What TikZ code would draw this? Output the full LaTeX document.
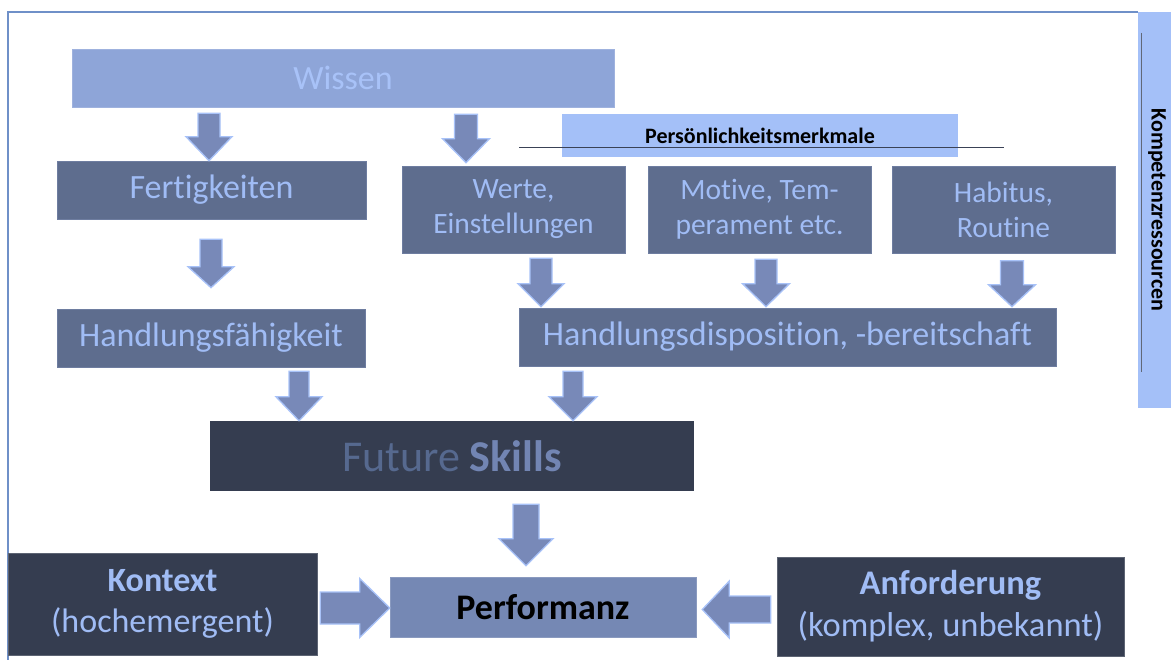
\documentclass[tikz,border=0pt]{standalone}
\usepackage{fontspec}
\setmainfont{Carlito}[Ligatures={NoCommon}]
\usetikzlibrary{calc}

\definecolor{wissenfill}{HTML}{8EA5D8}
\definecolor{wissentext}{HTML}{A8C2F8}
\definecolor{midfill}{HTML}{5E6D8E}
\definecolor{midedge}{HTML}{6E7DA0}
\definecolor{midtext}{HTML}{A0BCF5}
\definecolor{darkfill}{HTML}{353D50}
\definecolor{futuretext}{HTML}{56698F}
\definecolor{skillstext}{HTML}{7285B3}
\definecolor{perffill}{HTML}{7588B4}
\definecolor{barfill}{HTML}{A4C0F8}
\definecolor{arrowfill}{HTML}{7889B8}
\definecolor{arrowedge}{HTML}{A8C2F8}
\definecolor{framecol}{HTML}{6F90C8}
\definecolor{rulecol}{HTML}{3A4256}

\tikzset{
  box/.style={rectangle, inner sep=0pt, align=center,
    font=\fontsize{34}{41}\selectfont},
  wissenbox/.style={box, fill=wissenfill, draw=wissenfill!85!white, line width=0.6pt, text=wissentext},
  midbox/.style={box, fill=midfill, draw=midedge, line width=0.6pt, text=midtext},
  smallmid/.style={midbox, font=\fontsize{29.5}{35}\selectfont},
  darkbox/.style={box, fill=darkfill, draw=darkfill!80!white, line width=0.6pt, text=midtext},
  perfbox/.style={box, fill=perffill, draw=perffill!85!white, line width=0.6pt, text=black,
    font=\fontsize{36}{42}\selectfont\bfseries},
  barbox/.style={rectangle, inner sep=0pt, fill=barfill, text=black,
    font=\fontsize{22}{26}\selectfont\bfseries},
  blockarrow/.style={fill=arrowfill, draw=arrowedge, line width=1.3pt, line join=miter},
}

% vertical block arrow: from, to, x, top gap, tip gap, shaft half width, head half width, head length
\newcommand\vblock[8]{%
  \path[blockarrow] let \p1=(#1.south), \p2=(#2.north) in
    (#3pt-#6pt,\y1-#4pt) -- (#3pt+#6pt,\y1-#4pt) -- (#3pt+#6pt,\y2+#5pt+#8pt)
    -- (#3pt+#7pt,\y2+#5pt+#8pt) -- (#3pt,\y2+#5pt) -- (#3pt-#7pt,\y2+#5pt+#8pt)
    -- (#3pt-#6pt,\y2+#5pt+#8pt) -- cycle;}

% horizontal block arrow: from anchor, to anchor, y, start gap, tip gap, shaft half width, head half width, head length
\newcommand\hblock[8]{%
  \path[blockarrow] let \p1=(#1), \p2=(#2), \n1={sign(\x2-\x1)} in
    (\x1+\n1*#4pt,-#3pt+#6pt) -- (\x2-\n1*#5pt-\n1*#8pt,-#3pt+#6pt)
    -- (\x2-\n1*#5pt-\n1*#8pt,-#3pt+#7pt) -- (\x2-\n1*#5pt,-#3pt)
    -- (\x2-\n1*#5pt-\n1*#8pt,-#3pt-#7pt) -- (\x2-\n1*#5pt-\n1*#8pt,-#3pt-#6pt)
    -- (\x1+\n1*#4pt,-#3pt-#6pt) -- cycle;}

\begin{document}
\begin{tikzpicture}[x=1pt,y=-1pt]
\useasboundingbox (0,0) rectangle (1171,660);
\fill[white] (0,0) rectangle (1171,660);

% outer frame and side bar
\draw[framecol, line width=1.3pt] (8,661) -- (8,12) -- (1138,12);
\fill[barfill] (1138,12) rectangle (1172,408);
\draw[rulecol!80!white, line width=1pt] (1141,33) -- (1141,372);
\node[font=\fontsize{22}{26}\selectfont\bfseries, rotate=-90, inner sep=0pt] (komp) at (1157,210) {Kompetenzressourcen};

% top row
\node[wissenbox, minimum width=542pt, minimum height=58pt] (wissen) at (343,78) {Wissen};
\node[barbox, minimum width=396pt, minimum height=43pt] (pers) at (760,135.5) {Persönlichkeitsmerkmale};
\coordinate (ruleL) at (519,148);
\coordinate (ruleR) at (1004,148);
\draw[rulecol, line width=1pt] (ruleL) -- (ruleR);

% second row
\node[midbox, minimum width=309pt, minimum height=58pt] (fert) at (211.5,190) {Fertigkeiten};
\node[smallmid, minimum width=223pt, minimum height=87pt] (werte) at (513.5,209.5) {Werte,\\Einstellungen};
\node[smallmid, minimum width=223pt, minimum height=87pt] (motive) at (759.5,209.5) {Motive, Tem-\\perament etc.};
\node[smallmid, minimum width=223pt, minimum height=87pt] (habitus) at (1003.5,210) {Habitus,\\Routine};

% third row
\node[midbox, minimum width=308pt, minimum height=58pt] (hfaeh) at (211,338) {Handlungsfähigkeit};
\node[midbox, minimum width=537pt, minimum height=58pt] (hdisp) at (787.5,337) {Handlungsdisposition, -bereitschaft};

% future skills
\node[box, fill=darkfill, minimum width=484pt, minimum height=70pt, font=\fontsize{44}{50}\selectfont] (future) at (452,456)
  {\textcolor{futuretext}{Future} \textcolor{skillstext}{\bfseries Skills}};

% bottom row
\node[darkbox, minimum width=309pt, minimum height=102pt] (kontext) at (162.5,604) {\textbf{Kontext}\\(hochemergent)};
\node[perfbox, minimum width=306pt, minimum height=60pt] (perf) at (543,607) {Performanz};
\node[darkbox, minimum width=347pt, minimum height=99pt, font=\fontsize{34.5}{42}\selectfont] (anf) at (950.5,606.5) {\textbf{Anforderung}\\(komplex, unbekannt)};

% block arrows
\vblock{wissen}{fert}{209}{6}{0}{11}{23}{24}
\vblock{wissen}{werte}{466}{7}{3}{11.5}{23.5}{24}
\vblock{fert}{hfaeh}{211}{20}{21}{11}{23}{21}
\vblock{werte}{hdisp}{541}{5}{1}{11}{23}{23}
\vblock{motive}{hdisp}{766}{6}{1}{11}{23.5}{23}
\vblock{habitus}{hdisp}{1012}{7}{1}{11.5}{23.5}{22}
\vblock{hfaeh}{future}{299}{4}{0}{10}{23}{24}
\vblock{hdisp}{future}{573}{5}{0}{10}{24}{24}
\vblock{future}{perf}{526}{13}{11}{13}{27}{27}
\hblock{kontext.east}{perf.west}{608}{3}{0}{16}{29.5}{30}
\hblock{anf.west}{perf.east}{609.5}{6}{6}{13.5}{28.5}{27}
\end{tikzpicture}
\end{document}
